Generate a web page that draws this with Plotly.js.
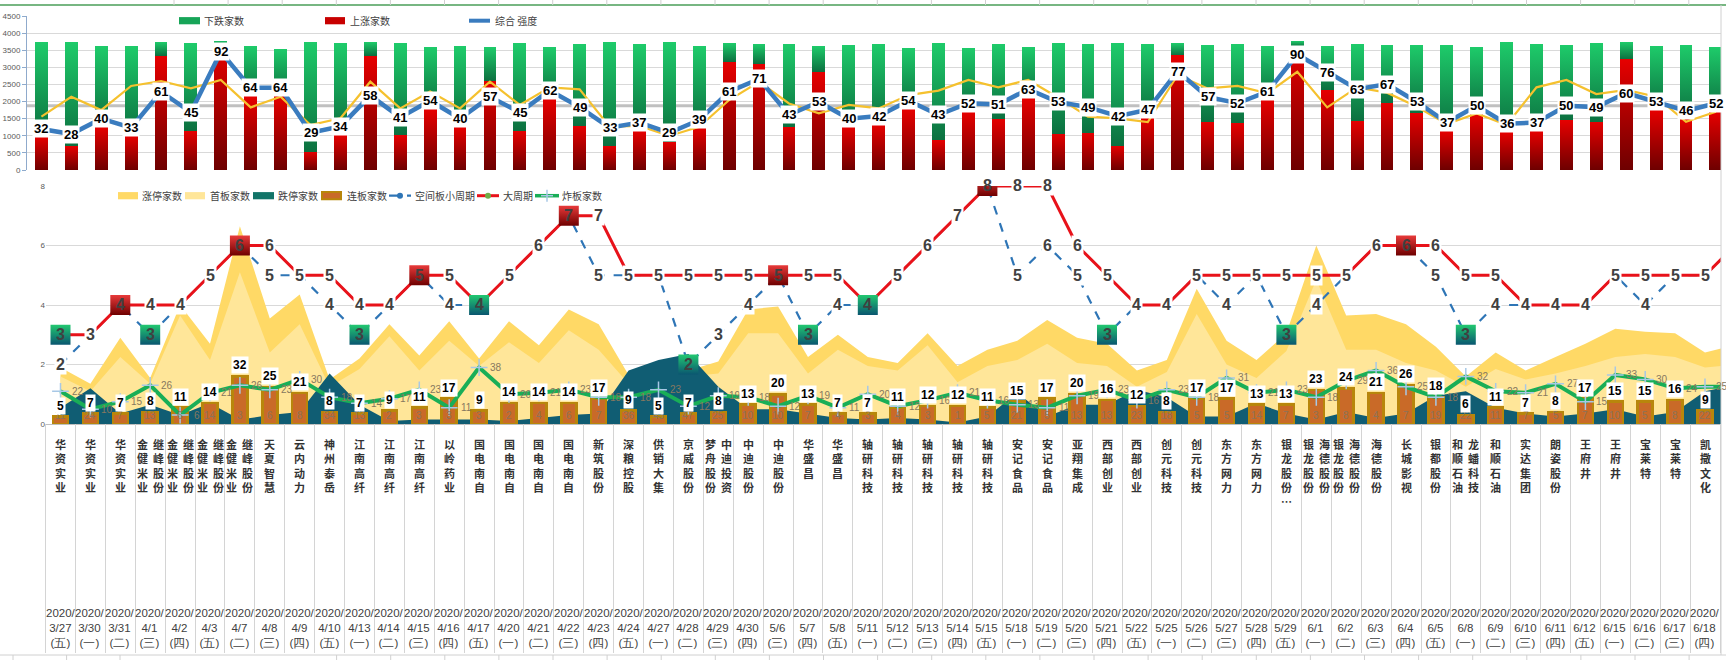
<!DOCTYPE html>
<html><head><meta charset="utf-8">
<script src="https://cdn.plot.ly/plotly-3.0.1.min.js"></script>
<style>html,body{margin:0;padding:0;background:#fff;overflow:hidden}#chart{width:1726px;height:660px}</style>
</head><body><div id="chart"></div>
<script>
// ---------------- data ----------------
const dates = ['3/27','3/30','3/31','4/1','4/2','4/3','4/7','4/8','4/9','4/10','4/13','4/14','4/15','4/16','4/17','4/20','4/21','4/22','4/23','4/24','4/27','4/28','4/29','4/30','5/6','5/7','5/8','5/11','5/12','5/13','5/14','5/15','5/18','5/19','5/20','5/21','5/22','5/25','5/26','5/27','5/28','5/29','6/1','6/2','6/3','6/4','6/5','6/8','6/9','6/10','6/11','6/12','6/15','6/16','6/17','6/18','6/19'];
const weekdays = ['五','一','二','三','四','五','二','三','四','五','一','二','三','四','五','一','二','三','四','五','一','二','三','四','三','四','五','一','二','三','四','五','一','二','三','四','五','一','二','三','四','五','一','二','三','四','五','一','二','三','四','五','一','二','三','四','五'];
const stocks = ['华资实业','华资实业','华资实业','金健米业|继峰股份','金健米业|继峰股份','金健米业|继峰股份','金健米业|继峰股份','天夏智慧','云内动力','神州泰岳','江南高纤','江南高纤','江南高纤','以岭药业','国电南自','国电南自','国电南自','国电南自','新筑股份','深粮控股','供销大集','京威股份','梦舟股份|中迪投资','中迪股份','中迪股份','华盛昌','华盛昌','轴研科技','轴研科技','轴研科技','轴研科技','轴研科技','安记食品','安记食品','亚翔集成','西部创业','西部创业','创元科技','创元科技','东方网力','东方网力','银龙股份⋯','银龙股份|海德股份','银龙股份|海德股份','海德股份','长城影视','银都股份','和顺石油|龙蟠科技','和顺石油','实达集团','朗姿股份','王府井','王府井','宝莱特','宝莱特','凯撒文化',''];

// top chart
const upCounts   = [975,700,1255,995,3340,1150,3650,2150,2180,540,1020,3340,1020,1780,1250,2600,1150,2070,1300,710,1140,830,1240,3155,3100,1265,2870,1265,1315,1780,875,1695,1500,2100,1060,1090,710,1530,3350,1400,1365,2045,3600,2340,1440,1965,1655,1140,1635,1110,1140,1460,1400,3230,1750,1490,1695];
const downCounts = [2765,3040,2365,2625,400,2560,130,1470,1360,3200,2690,400,2690,1810,2370,990,2560,1520,2380,3030,2540,2910,2380,555,580,2415,750,2385,2365,1785,2835,1870,2180,1490,2650,2590,3000,2150,360,2250,2315,1575,170,1280,2240,1685,1995,2510,1955,2630,2540,2190,2310,510,1870,2160,1895];
const strength   = [32,28,40,33,61,45,92,64,64,29,34,58,41,54,40,57,45,62,49,33,37,29,39,61,71,43,53,40,42,54,43,52,51,63,53,49,42,47,77,57,52,61,90,76,63,67,53,37,50,36,37,50,49,60,53,46,52];
const yellowLine = [1560,2140,1750,2455,2600,2385,2630,1830,2140,1315,1510,2580,1800,2290,1800,2580,1900,2415,2355,1265,1285,995,1265,2045,2580,1945,1655,1900,1800,2190,2320,2630,2415,2630,2120,1560,1510,1400,2775,2385,2455,2240,2870,1830,2415,2260,1850,1345,1655,1315,2415,2630,2220,2340,2140,1410,1700];
const strengthMid = 50;

// middle chart
const zhangting = [38,27,58,31,80,54,133,71,87,30,44,67,46,69,44,69,53,77,67,33,35,36,42,77,79,45,60,45,41,61,39,50,56,70,58,54,36,43,91,56,43,61,120,73,74,67,52,32,48,36,45,54,64,62,61,48,53];
const shouban   = [32,22,45,27,73,43,102,48,67,25,37,59,36,56,39,55,41,63,50,27,25,32,34,61,61,34,50,39,36,53,28,39,43,54,41,39,25,35,74,40,31,49,97,50,50,41,36,25,37,30,34,39,45,47,45,38,40];
const dieting   = [11,24,7,13,6,14,3,6,8,34,13,2,3,3,3,2,4,6,7,36,43,47,25,10,10,7,4,3,4,3,1,5,21,5,13,13,23,18,5,5,14,7,3,8,4,7,19,22,11,7,5,7,10,5,8,22,26];
const lianban   = [5,7,7,8,11,14,32,25,21,8,7,9,11,17,9,14,14,14,17,9,5,7,8,13,20,13,7,7,11,12,12,11,15,17,20,16,12,8,17,17,13,13,23,24,21,26,18,6,11,7,8,17,15,15,16,9,null];
const zhaban    = [22,10,15,26,6,21,26,23,30,18,14,17,23,11,38,20,21,23,18,18,23,12,19,18,12,19,11,20,12,16,21,16,13,11,19,23,16,23,18,31,21,23,18,29,36,25,18,32,22,21,27,15,33,30,24,25,25];
const bigCycle   = [3,3,4,4,4,5,6,6,5,5,4,4,5,5,4,5,6,7,7,5,5,5,5,5,5,5,5,4,5,6,7,8,8,8,6,5,4,4,5,5,5,5,5,5,6,6,6,5,5,4,4,4,5,5,5,5,6];
const smallCycle = [2,3,4,3,4,5,6,5,5,4,3,4,5,4,4,5,6,7,5,5,5,2,3,4,5,3,4,4,5,6,7,8,5,6,5,3,4,4,5,4,5,3,4,5,6,6,5,3,4,4,4,4,5,4,5,5,6];
const peakDays        = ['3/31','4/7','4/15','4/22','5/6','5/15','6/4'];
const troughBigDays   = ['3/27','4/17','5/11'];
const troughSmallDays = ['4/1','4/13','4/28','5/7','5/21','5/29','6/8'];

// ---------------- helpers ----------------
const W = 1726, H = 660;
const px = v => v / W, py = v => 1 - v / H;
const idx = dates.map((_, i) => i);
const LBL = 'Liberation Sans, Arial, sans-serif';
const CJK = 'Noto Sans CJK SC, sans-serif';

// ---------------- traces ----------------
const traces = [
  {type:'bar', x:idx, y:upCounts, xaxis:'x', yaxis:'y', width:0.43, marker:{color:'#C00000', line:{width:0}}, hoverinfo:'skip'},
  {type:'bar', x:idx, y:downCounts, xaxis:'x', yaxis:'y', width:0.43, marker:{color:'#18A455', line:{width:0}}, hoverinfo:'skip'},
  {type:'scatter', mode:'lines', x:idx, y:yellowLine, xaxis:'x', yaxis:'y', line:{color:'#F5C12E', width:2.2}, hoverinfo:'skip'},
  {type:'scatter', mode:'lines', x:idx, y:strength, xaxis:'x', yaxis:'y2', line:{color:'#3A7CBF', width:4.5}, hoverinfo:'skip'},

  {type:'scatter', mode:'lines', x:idx, y:zhangting, xaxis:'x2', yaxis:'y3', fill:'tozeroy', fillcolor:'#FFD966', line:{width:0, color:'#FFD966'}, hoverinfo:'skip'},
  {type:'scatter', mode:'lines', x:idx, y:shouban, xaxis:'x2', yaxis:'y3', fill:'tozeroy', fillcolor:'#FFE699', line:{width:0, color:'#FFE699'}, hoverinfo:'skip'},
  {type:'scatter', mode:'lines', x:idx, y:dieting, xaxis:'x2', yaxis:'y3', fill:'tozeroy', fillcolor:'#105D73', line:{width:0, color:'#105D73'}, hoverinfo:'skip'},

  {type:'bar', x:idx, y:lianban, xaxis:'x2', yaxis:'y4', width:0.5, marker:{color:'#C96A28', line:{color:'#B8860B', width:2.5}}, hoverinfo:'skip'},
  {type:'scatter', mode:'lines+markers', x:idx, y:zhaban, xaxis:'x2', yaxis:'y4', line:{color:'#19AE57', width:4},
    marker:{symbol:'cross-thin', size:12, line:{color:'#A8C8E6', width:1.5}}, hoverinfo:'skip'},

  {type:'scatter', mode:'lines', x:idx, y:smallCycle, xaxis:'x2', yaxis:'y5', line:{color:'#2E75B6', width:2.2, dash:'dash'}, hoverinfo:'skip'},
  {type:'scatter', mode:'lines', x:idx, y:bigCycle, xaxis:'x2', yaxis:'y5', line:{color:'#E8121A', width:3}, hoverinfo:'skip'}
];

// square markers
const sqX = [], sqY = [], sqC = [], sqG = [];
const boxed = {};
peakDays.forEach(d => { const i = dates.indexOf(d); sqX.push(i); sqY.push(bigCycle[i]); sqC.push('#E83A3A'); sqG.push('#6E0000'); boxed[i+'b'] = 1; });
troughBigDays.forEach(d => { const i = dates.indexOf(d); sqX.push(i); sqY.push(bigCycle[i]); sqC.push('#22C870'); sqG.push('#0A5670'); boxed[i+'b'] = 1; });
troughSmallDays.forEach(d => { const i = dates.indexOf(d); sqX.push(i); sqY.push(smallCycle[i]); sqC.push('#22C870'); sqG.push('#0A5670'); boxed[i+'s'] = 1; });
traces.push({type:'scatter', mode:'markers', x:sqX, y:sqY, xaxis:'x2', yaxis:'y5',
  marker:{symbol:'square', size:20, color:sqC, gradient:{type:'vertical', color:sqG}, line:{width:0}}, hoverinfo:'skip'});

// ---------------- annotations ----------------
const ann = [];
strength.forEach((v, i) => ann.push({x:i, y:v, xref:'x', yref:'y2', text:String(v), showarrow:false,
  bgcolor:'#FFFFFF', borderpad:1, font:{family:LBL, size:13, color:'#000', weight:'bold'}}));
smallCycle.forEach((v, i) => {
  if (v == null || (v === bigCycle[i] && !boxed[i+'s'])) return;
  ann.push({x:i, y:v, xref:'x2', yref:'y5', text:String(v), showarrow:false,
    bgcolor: boxed[i+'s'] ? 'rgba(0,0,0,0)' : '#FFFFFF', borderpad:1, font:{family:LBL, size:16, color:'#404040', weight:'bold'}});
});
bigCycle.forEach((v, i) => {
  if (v == null) return;
  ann.push({x:i, y:v, xref:'x2', yref:'y5', text:String(v), showarrow:false,
    bgcolor: boxed[i+'b'] ? 'rgba(0,0,0,0)' : '#FFFFFF', borderpad:1, font:{family:LBL, size:16, color:'#404040', weight:'bold'}});
});
zhaban.forEach((v, i) => ann.push({x:i, y:v, xref:'x2', yref:'y4', text:String(v), showarrow:false, xshift:17,
  font:{family:LBL, size:10, color:'#86785F'}}));
dieting.forEach((v, i) => ann.push({x:i, y:0, xref:'x2', yref:'y4', text:String(v), showarrow:false, yshift:8,
  font:{family:LBL, size:10, color:'#8C7358'}}));
lianban.forEach((v, i) => { if (v == null) return; ann.push({x:i, y:v, xref:'x2', yref:'y4', text:String(v), showarrow:false, yshift:11,
  bgcolor:'#FFFFFF', borderpad:1, font:{family:LBL, size:12, color:'#000', weight:'bold'}}); });
stocks.forEach((s, i) => {
  if (!s) return;
  const parts = s.split('|');
  parts.forEach((p, k) => {
    const shift = parts.length === 2 ? (k === 0 ? -8 : 8) : 0;
    ann.push({x:i, y:py(434), xref:'x3', yref:'paper', yanchor:'top', xshift:shift, showarrow:false,
      text:Array.from(p).join('<br>'), font:{family:CJK, size:11, color:'#333333', weight:'bold'}});
  });
});
dates.forEach((d, i) => ann.push({x:i, y:py(628), xref:'x3', yref:'paper', yanchor:'middle', showarrow:false,
  text:'2020/<br>' + d + '<br>(' + weekdays[i] + ')', font:{family:LBL, size:11.5, color:'#404040'}}));

// ---------------- legends (drawn) ----------------
const shapes = [];
function legRect(x0, x1, yc, fill, line) {
  shapes.push({type:'rect', xref:'paper', yref:'paper', x0:px(x0), x1:px(x1), y0:py(yc+3.6), y1:py(yc-3.6),
    fillcolor:fill, line:line || {width:0}});
}
function legLine(x0, x1, yc, color, width, dash) {
  shapes.push({type:'line', xref:'paper', yref:'paper', x0:px(x0), x1:px(x1), y0:py(yc), y1:py(yc), line:{color, width, dash:dash||'solid'}});
}
function legText(x, yc, t) {
  ann.push({x:px(x), y:py(yc), xref:'paper', yref:'paper', xanchor:'left', yanchor:'middle', showarrow:false, text:t,
    font:{family:CJK, size:10, color:'#404040'}});
}
legRect(179, 200, 20.7, '#17A558'); legText(202, 20.7, '下跌家数');
legRect(325, 345, 20.7, '#C80000'); legText(348, 20.7, '上涨家数');
legLine(469, 490, 20.7, '#3A7CBF', 4); legText(493, 20.7, '综合 强度');
const ly = 195.7;
legRect(118, 138, ly, '#FFD966'); legText(140, ly, '涨停家数');
legRect(185, 205, ly, '#FFE699'); legText(208, ly, '首板家数');
legRect(253, 274, ly, '#127468'); legText(276, ly, '跌停家数');
legRect(322, 341, ly, '#C96A28', {color:'#B8860B', width:2}); legText(345, ly, '连板家数');
legLine(389, 411, ly, '#2E75B6', 2.2, 'dash');
shapes.push({type:'circle', xref:'paper', yref:'paper', x0:px(397), x1:px(403), y0:py(ly+3), y1:py(ly-3), fillcolor:'#2E75B6', line:{width:0}});
legText(413, ly, '空间板小周期');
legLine(477, 499, ly, '#E8121A', 3);
shapes.push({type:'circle', xref:'paper', yref:'paper', x0:px(485), x1:px(491), y0:py(ly+3), y1:py(ly-3), fillcolor:'#70AD47', line:{width:0}});
legText(501, ly, '大周期');
legLine(535, 559, ly, '#19AE57', 3.5);
legLine(541, 553, ly, '#A8C8E6', 1.5);
shapes.push({type:'line', xref:'paper', yref:'paper', x0:px(547), x1:px(547), y0:py(ly+6), y1:py(ly-6), line:{color:'#A8C8E6', width:1.5}});
legText(560, ly, '炸板家数');

shapes.push({type:'line', xref:'paper', yref:'y2', x0:px(27), x1:px(1721), y0:strengthMid, y1:strengthMid, line:{color:'#C0C0C0', width:3}, layer:'below'});
shapes.push({type:'line', xref:'paper', yref:'paper', x0:0, x1:1, y0:py(5), y1:py(5), line:{color:'#4A9E58', width:1.5}});
for (let x = 174; x < W; x += 54.1) shapes.push({type:'line', xref:'paper', yref:'paper', x0:px(x), x1:px(x), y0:py(0), y1:py(5), line:{color:'#D0D0D0', width:1}});
shapes.push({type:'line', xref:'paper', yref:'paper', x0:px(1721), x1:px(1721), y0:py(5), y1:py(655), line:{color:'#D0D0D0', width:1}});
shapes.push({type:'line', xref:'paper', yref:'paper', x0:0, x1:1, y0:py(655), y1:py(655), line:{color:'#D0D0D0', width:1}});
[13, 66.6, 120].concat(Array.from({length:26}, (_, k) => 336.6 + k * 54.1)).forEach(x =>
  shapes.push({type:'line', xref:'paper', yref:'paper', x0:px(x), x1:px(x), y0:py(655), y1:py(660), line:{color:'#D0D0D0', width:1}}));

const bounds = dates.map((_, i) => i - 0.5).concat([dates.length - 0.5]);

const layout = {
  width:W, height:H, margin:{l:0, r:0, t:0, b:0}, paper_bgcolor:'#FFFFFF', plot_bgcolor:'rgba(0,0,0,0)',
  showlegend:false, barmode:'stack', font:{family:LBL},
  xaxis:{domain:[px(27), px(1721)], range:[-0.4816, 56.17], anchor:'y', showgrid:false, showticklabels:false, zeroline:false, showline:false, ticks:''},
  yaxis:{domain:[py(170), py(16)], range:[0, 4500], dtick:500, anchor:'x', showgrid:true, gridcolor:'#D9D9D9', gridwidth:1,
    showline:true, linecolor:'#8FAACC', ticks:'outside', ticklen:4, tickcolor:'#8FAACC', tickfont:{size:8, color:'#595959'}, zeroline:false},
  yaxis2:{overlaying:'y', anchor:'x', range:[0, 120], visible:false},
  xaxis2:{domain:[px(46), px(1721)], range:[-0.485, 55.535], anchor:'y3', showgrid:false, showticklabels:false, zeroline:false,
    showline:true, linecolor:'#BFBFBF', ticks:''},
  yaxis3:{domain:[py(424), py(186)], range:[0, 160], anchor:'x2', tickvals:[0, 40, 80, 120, 160], ticktext:['0','2','4','6','8'],
    showgrid:true, gridcolor:'#D9D9D9', zeroline:false, showline:false, ticks:'', tickfont:{size:8, color:'#595959'}},
  yaxis4:{overlaying:'y3', anchor:'x2', range:[0, 160], visible:false},
  yaxis5:{overlaying:'y3', anchor:'x2', range:[0, 8], visible:false},
  xaxis3:{domain:[px(46), 1], range:[-0.485, 55.70], anchor:'y6', tickmode:'array', tickvals:bounds, showgrid:true, gridcolor:'#D4D4D4',
    showticklabels:false, ticks:'', zeroline:false, showline:false},
  yaxis6:{domain:[py(653), py(424)], range:[0, 1], anchor:'x3', showgrid:false, showticklabels:false, zeroline:false, showline:true, linecolor:'#D4D4D4', ticks:''},
  shapes, annotations:ann
};

Plotly.newPlot('chart', traces, layout, {staticPlot:true, displayModeBar:false}).then(gd => {
  const NS = 'http://www.w3.org/2000/svg';
  const svg = gd.querySelector('svg.main-svg');
  let defs = svg.querySelector('defs');
  if (!defs) { defs = document.createElementNS(NS, 'defs'); svg.insertBefore(defs, svg.firstChild); }
  function grad(id, c1, c2) {
    const g = document.createElementNS(NS, 'linearGradient');
    g.setAttribute('id', id); g.setAttribute('x1', '0'); g.setAttribute('y1', '0'); g.setAttribute('x2', '0'); g.setAttribute('y2', '1');
    [[0, c1], [1, c2]].forEach(([o, c]) => { const s = document.createElementNS(NS, 'stop'); s.setAttribute('offset', o); s.setAttribute('stop-color', c); g.appendChild(s); });
    defs.appendChild(g);
  }
  grad('gUp', '#E60000', '#6E0000');
  grad('gDown', '#1ECB6A', '#0C7040');
  const sub = gd.querySelector('.subplot.xy') || svg;
  const groups = sub.querySelectorAll('.barlayer .trace.bars, .barlayer .trace');
  if (groups.length >= 2) {
    groups[0].querySelectorAll('path').forEach(p => { p.style.fill = 'url(#gUp)'; });
    groups[1].querySelectorAll('path').forEach(p => { p.style.fill = 'url(#gDown)'; });
  }
});
</script>
</body></html>
